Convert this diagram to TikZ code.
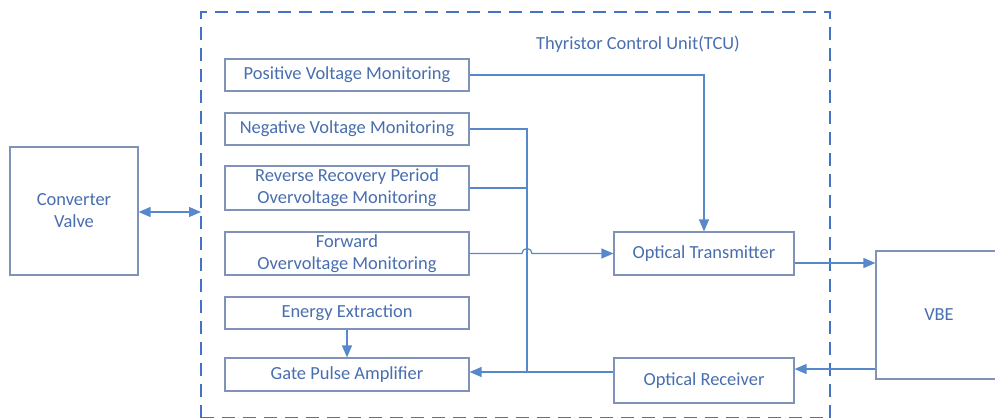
\documentclass[tikz,border=0pt]{standalone}
\usepackage{fontspec}
\setmainfont{Carlito}
\usepackage{xcolor}
\usepackage{tikz}
\usetikzlibrary{arrows.meta, positioning, calc}
\definecolor{inkblue}{RGB}{68, 114, 196}
\definecolor{txtblue}{RGB}{72, 110, 176}
\definecolor{edgegray}{RGB}{128, 146, 184}
\definecolor{wireblue}{RGB}{88, 136, 204}
\tikzset{
    blk/.style   ={draw=edgegray, line width=0.7pt, fill=white,
                   minimum width=4.88cm, minimum height=0.64cm,
                   align=center, text=txtblue, inner sep=0pt,
                   font=\fontsize{10.5}{12.5}\selectfont},
    bigblk/.style={blk, minimum width=2.56cm, minimum height=2.56cm},
    optblk/.style={blk, minimum width=3.6cm},
    unit/.style  ={draw=inkblue, line width=1pt, dash pattern=on 0.26cm off 0.16cm},
    ar/.style    ={-{Triangle[length=2.4mm, width=2mm]}, line width=0.7pt, draw=wireblue},
    dar/.style   ={{Triangle[length=2.4mm, width=2mm]}-{Triangle[length=2.4mm, width=2mm]},
                   line width=0.7pt, draw=wireblue},
    ln/.style    ={line width=0.7pt, draw=wireblue}
}

\begin{document}
\begin{tikzpicture}[x=0.02cm, y=-0.02cm]
  \useasboundingbox (0,0) rectangle (995,417);

  % thyristor control unit
  \draw[unit] (201,417.5) -- (201,12) -- (830,12) -- (830,417.5);
  \draw[unit] (201,417.5) -- (830,417.5);
  \coordinate (tcuw) at (201,212);
  \node[text=txtblue, font=\fontsize{10.5}{12.5}\selectfont] (tcu) at (638,44) {Thyristor Control Unit(TCU)};

  \node[bigblk] (cv)  at (74,211)  {Converter\\Valve};
  \node[bigblk, minimum width=2.52cm] (vbe) at (939,315) {VBE};

  \node[blk] (pos)    at (347,75)    {Positive Voltage Monitoring};
  \node[blk] (neg)    at (347,129)   {Negative Voltage Monitoring};
  \node[blk, minimum height=0.88cm] (rev) at (347,188) {Reverse Recovery Period\\Overvoltage Monitoring};
  \node[blk, minimum height=0.86cm] (fwd) at (347,253.5) {Forward\\Overvoltage Monitoring};
  \node[blk] (energy) at (347,313)   {Energy Extraction};
  \node[blk, minimum height=0.66cm] (gate) at (347,374.5) {Gate Pulse Amplifier};

  \node[optblk, minimum height=0.86cm] (otx) at (704,253.5) {Optical Transmitter};
  \node[optblk, minimum height=0.9cm] (orx) at (704,380.5) {Optical Receiver};

  \coordinate (bus)  at (527,129);
  \coordinate (bot)  at (527,372);
  \coordinate (txln) at (0,263);
  \coordinate (rxln) at (0,369);

  \draw[dar] (cv.east |- tcuw) -- (tcuw);

  \draw[ar] (pos.east) -| (otx.north);

  % monitoring signals to the bus
  \draw[ln] (neg.east) -- (bus) -- (bot);
  \draw[ln] (rev.east) -- (rev.east -| bus);

  % forward jumps over the bus
  \draw[ar] (fwd.east) -- ([xshift=-0.1cm]fwd.east -| bus)
            arc[start angle=180, end angle=0, radius=0.1cm] -- (otx.west);

  \draw[ar] (energy) -- (gate);
  \draw[ar] (bot -| orx.west) -- (bot -| gate.east);

  \draw[ar] (txln -| otx.east) -- (txln -| vbe.west);
  \draw[ar] (rxln -| vbe.west) -- (rxln -| orx.east);
\end{tikzpicture}
\end{document}
